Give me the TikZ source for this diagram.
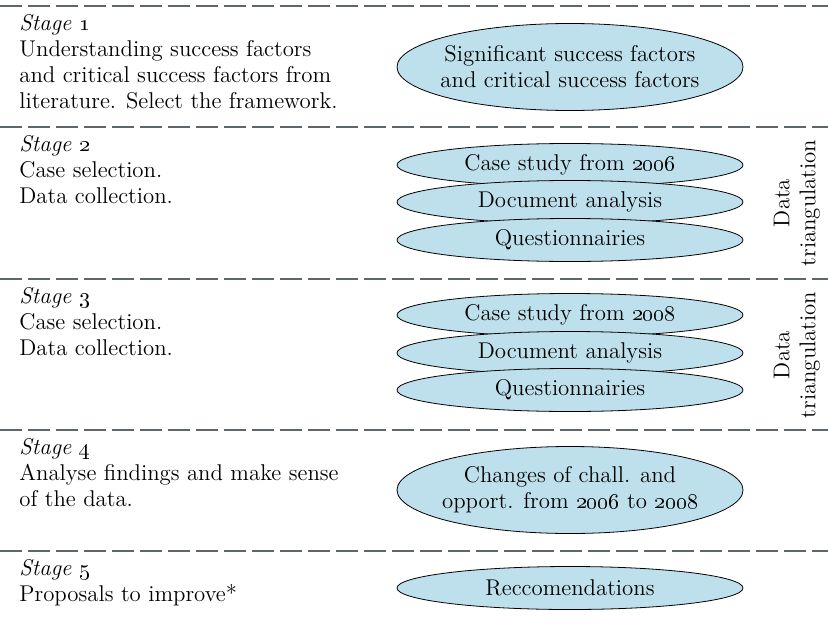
\documentclass[tikz,border=0pt]{standalone}
\usepackage{amsmath}
\usepackage{xcolor}
\usetikzlibrary{shapes.geometric}

\definecolor{ovalblue}{RGB}{190,224,237}
\definecolor{rulegray}{RGB}{95,102,105}

\begin{document}
\begin{tikzpicture}[x=0.5pt, y=-0.5pt, font=\fontsize{11.4}{13}\selectfont,
	oval/.style={ellipse, draw, fill=ovalblue, minimum width=173pt, minimum height=21.5pt, inner xsep=-8pt, inner ysep=0pt, align=center},
	bigoval/.style={oval, minimum height=43.5pt},
	stagetext/.style={anchor=north west, align=left, inner sep=0pt},
	sep/.style={draw=rulegray, line width=1.1pt, dash pattern=on 11pt off 3pt}]
					\useasboundingbox (0,0) rectangle (828,626);

					% dashed separators
					\foreach \y [count=\i] in {6,127,279,430,551} {
						\coordinate (l\i) at (0,\y);
						\coordinate (r\i) at (828,\y);
						\draw[sep] (l\i) -- (r\i);
					}

					\node[stagetext] (st1) at (19,14) {\textit{Stage \oldstylenums{1}}\\Understanding success factors\\and critical success factors from\\literature. Select the framework.};
					\node[stagetext] (st2) at (19,135) {\textit{Stage \oldstylenums{2}}\\Case selection.\\Data collection.};
					\node[stagetext] (st3) at (19,287) {\textit{Stage \oldstylenums{3}}\\Case selection.\\Data collection.};
					\node[stagetext] (st4) at (19,438) {\textit{Stage \oldstylenums{4}}\\Analyse findings and make sense\\of the data.};
					\node[stagetext] (st5) at (19,559) {\textit{Stage \oldstylenums{5}}\\Proposals to improve*};

					\node[bigoval] (sf) at (570,67) {Significant success factors\\and critical success factors};

					\node[oval] (cs06) at (570,165) {Case study from \oldstylenums{2006}};
					\node[oval] (da06) at (570,202) {Document analysis};
					\node[oval] (qn06) at (570,240) {Questionnairies};

					\node[oval] (cs08) at (570,315) {Case study from \oldstylenums{2008}};
					\node[oval] (da08) at (570,353) {Document analysis};
					\node[oval] (qn08) at (570,390) {Questionnairies};

					\node[bigoval] (chg) at (570,490) {Changes of chall. and\\opport. from \oldstylenums{2006} to \oldstylenums{2008}};
					\node[oval] (rec) at (570,588) {Reccomendations};

					\node[rotate=90, align=center, inner sep=0pt] (tri06) at (797,203) {Data\\triangulation};
					\node[rotate=90, align=center, inner sep=0pt] (tri08) at (797,355) {Data\\triangulation};
				\end{tikzpicture}
\end{document}
